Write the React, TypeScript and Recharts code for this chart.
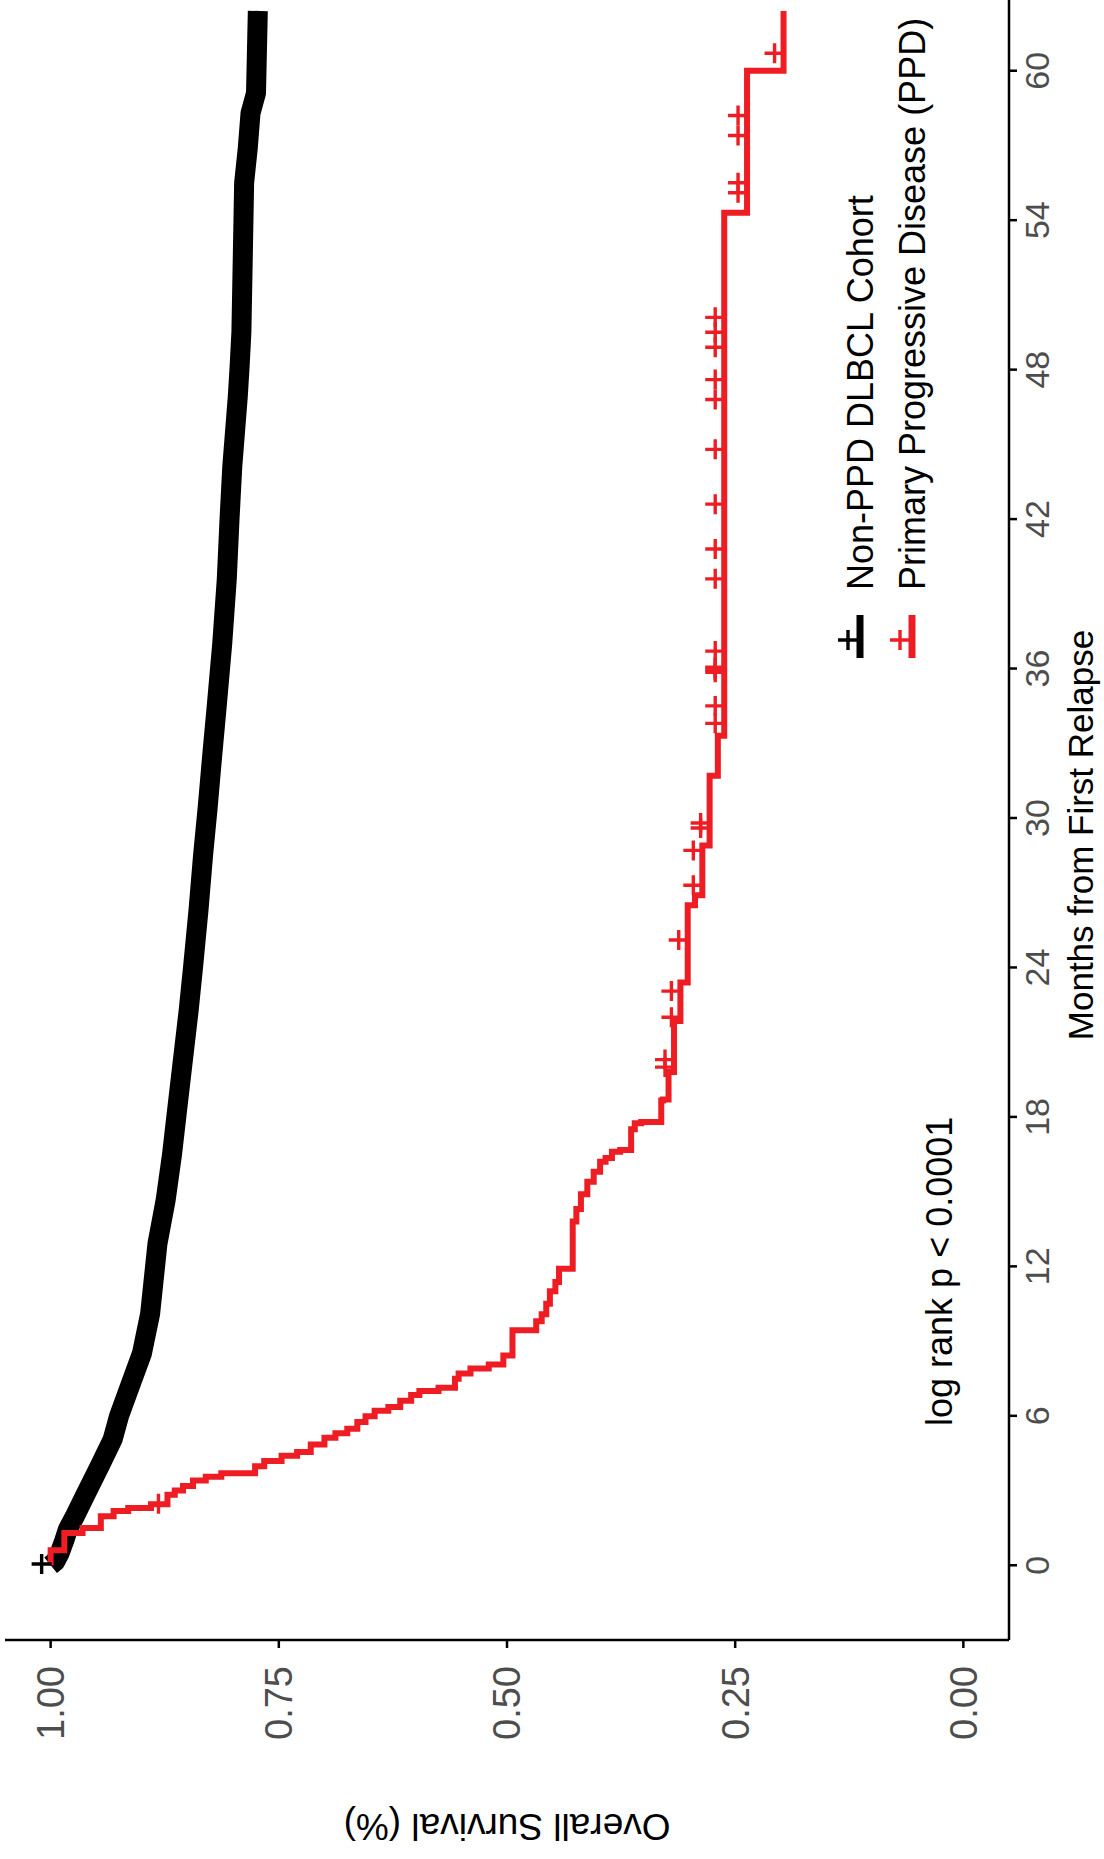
import {
  ComposedChart,
  Line,
  Scatter,
  XAxis,
  YAxis,
  ReferenceDot,
  Legend,
} from "recharts";

const seriesNames = ["Non-PPD DLBCL Cohort", "Primary Progressive Disease (PPD)"];
const seriesColors = ["#000000", "#EE1D23"];

const monthTicks = [0, 6, 12, 18, 24, 30, 36, 42, 48, 54, 60];
const survivalTicks = [0, 0.25, 0.5, 0.75, 1];

// the large cohort is a dense run of tiny steps and censor marks, so it reads as a band
const nonPpdSteps: [number, number][] = [
  [0, 1.0], [0.15, 0.995], [0.5, 0.99], [1.0, 0.985], [1.45, 0.981],
  [2.0, 0.973], [2.9, 0.961], [4.0, 0.946], [5.06, 0.932], [6.0, 0.925],
  [7.2, 0.913], [8.5, 0.9], [10.1, 0.891], [11.5, 0.887], [12.9, 0.883],
  [14.66, 0.874], [16.5, 0.867], [18.1, 0.862], [20.0, 0.856], [22.2, 0.849],
  [24.0, 0.844], [26.3, 0.838], [28.5, 0.833], [30.4, 0.828], [32.5, 0.823],
  [34.5, 0.818], [37.0, 0.812], [39.6, 0.807], [42.0, 0.804], [44.1, 0.801],
  [46.9, 0.795], [48.1, 0.793], [49.5, 0.791], [55.5, 0.788], [56.9, 0.784],
  [58.3, 0.781], [59.1, 0.775], [62.4, 0.773],
];

const ppdSteps: [number, number][] = [
  [0, 1.0], [0.6, 0.985], [1.3, 0.965], [1.5, 0.945], [1.97, 0.931],
  [2.18, 0.915], [2.3, 0.89], [2.45, 0.872], [2.83, 0.864], [3.0, 0.855],
  [3.18, 0.844], [3.4, 0.83], [3.55, 0.813], [3.69, 0.776], [3.98, 0.766],
  [4.19, 0.747], [4.4, 0.73], [4.55, 0.715], [4.85, 0.7], [5.12, 0.688],
  [5.3, 0.675], [5.48, 0.664], [5.75, 0.655], [5.98, 0.645], [6.2, 0.63],
  [6.35, 0.617], [6.6, 0.605], [6.84, 0.596], [7.0, 0.575], [7.13, 0.557],
  [7.49, 0.553], [7.7, 0.54], [7.9, 0.52], [8.06, 0.504], [8.42, 0.494],
  [9.44, 0.468], [9.8, 0.462], [10.08, 0.457], [10.5, 0.453], [11.0, 0.447],
  [11.37, 0.443], [11.9, 0.428], [13.8, 0.424], [14.3, 0.419], [14.9, 0.412],
  [15.4, 0.405], [15.8, 0.398], [16.2, 0.392], [16.35, 0.385], [16.6, 0.376],
  [16.67, 0.364], [17.5, 0.36], [17.75, 0.353], [17.8, 0.331], [18.66, 0.329],
  [18.7, 0.323], [19.8, 0.317], [21.85, 0.31], [23.4, 0.302], [26.5, 0.294],
  [26.9, 0.286], [28.9, 0.278], [31.7, 0.269], [33.3, 0.262], [54.3, 0.237],
  [60.0, 0.197], [62.4, 0.197],
];

const nonPpdCensorMonths = [0.05];
const ppdCensorMonths = [
  2.47, 20.0, 20.3, 22.0, 23.05, 25.1, 27.3, 28.7, 29.6, 29.8, 33.8, 34.5,
  35.85, 35.95, 36.05, 36.7, 39.6, 40.8, 42.6, 44.8, 46.8, 47.6, 48.9, 49.5,
  50.1, 55.1, 55.5, 57.4, 58.2, 60.7,
];

const toRows = (steps: [number, number][]) => steps.map(([t, s]) => ({ t, s }));

// value of the step function at time t
const survivalAt = (steps: [number, number][], t: number) => {
  let s = steps[0][1];
  for (const [ti, si] of steps) if (ti <= t) s = si;
  return s;
};

const censorRows = (steps: [number, number][], months: number[]) =>
  months.map((t) => ({ t, s: survivalAt(steps, t) }));

const CensorMark = (props: any) => {
  const { cx, cy, fill } = props;
  if (cx == null || cy == null) return null;
  const y = cy - 9;
  return (
    <path
      d={`M${cx - 10},${y}H${cx + 10}M${cx},${y - 10}V${y + 10}`}
      stroke={fill}
      strokeWidth={3.4}
      fill="none"
    />
  );
};

const LegendBox = () => (
  <svg width={720} height={130}>
    {seriesNames.map((name, i) => {
      const y = 40 + i * 52;
      return (
        <g key={name}>
          <line x1={11} x2={54} y1={y} y2={y} stroke={seriesColors[i]} strokeWidth={7} />
          <path
            d={`M19,${y - 12}H39M29,${y - 22}V${y - 2}`}
            stroke={seriesColors[i]}
            strokeWidth={3.4}
            fill="none"
          />
          <text x={79} y={y + 13} fontSize={36} fill="#000">
            {name}
          </text>
        </g>
      );
    })}
  </svg>
);

const SurvivalLabel = (props: any) => {
  const vb = props.viewBox || {};
  const x = 33;
  const cy = vb.height ? vb.y + vb.height / 2 : 507;
  return (
    <text
      x={x}
      y={cy}
      transform={`rotate(-90, ${x}, ${cy})`}
      textAnchor="middle"
      dominantBaseline="central"
      fontSize={37}
      fill="#000"
    >
      Overall Survival (%)
    </text>
  );
};

const MonthsLabel = (props: any) => {
  const vb = props.viewBox || {};
  const cx = vb.width ? vb.x + vb.width / 2 - 17 : 1024;
  const y = vb.height ? vb.y + vb.height - 11 : 1093;
  return (
    <text x={cx} y={y} textAnchor="middle" fontSize={35} fill="#000">
      Months from First Relapse
    </text>
  );
};

const App = () => {
  return (
    <div
      style={{
        position: "absolute",
        left: 0,
        top: 0,
        width: 1104,
        height: 1859,
        overflow: "hidden",
        background: "#fff",
        fontFamily: "'Liberation Sans', Arial, sans-serif",
      }}
    >
      {/* chart drawn upright, then turned a quarter turn counter-clockwise */}
      <div
        style={{
          width: 1863,
          height: 1104,
          transformOrigin: "0 0",
          transform: "translate(0px, 1859px) rotate(-90deg)",
        }}
      >
        <ComposedChart
          width={1863}
          height={1104}
          margin={{ top: 5, right: 0, bottom: 0, left: 19 }}
        >
          <XAxis
            type="number"
            dataKey="t"
            domain={[-3, 63]}
            ticks={monthTicks}
            allowDataOverflow
            height={95}
            tickSize={8}
            tickMargin={8}
            axisLine={{ stroke: "#000", strokeWidth: 2.5 }}
            tickLine={{ stroke: "#000", strokeWidth: 2.5 }}
            tick={{ fill: "#4D4D4D", fontSize: 34 }}
            label={MonthsLabel}
          />
          <YAxis
            type="number"
            dataKey="s"
            domain={[-0.05, 1.05]}
            ticks={survivalTicks}
            allowDataOverflow
            width={200}
            tickSize={8}
            tickMargin={18}
            tickFormatter={(v: number) => v.toFixed(2)}
            axisLine={{ stroke: "#000", strokeWidth: 2.5 }}
            tickLine={{ stroke: "#000", strokeWidth: 2.5 }}
            tick={{ fill: "#4D4D4D", fontSize: 38 }}
            label={SurvivalLabel}
          />

          <Line
            data={toRows(nonPpdSteps)}
            dataKey="s"
            name={seriesNames[0]}
            type="linear"
            stroke={seriesColors[0]}
            strokeWidth={20}
            strokeLinejoin="round"
            dot={false}
            activeDot={false}
            isAnimationActive={false}
          />
          <Scatter
            data={censorRows(nonPpdSteps, nonPpdCensorMonths)}
            dataKey="s"
            fill={seriesColors[0]}
            shape={CensorMark}
            legendType="none"
            isAnimationActive={false}
          />
          <Line
            data={toRows(ppdSteps)}
            dataKey="s"
            name={seriesNames[1]}
            type="stepAfter"
            stroke={seriesColors[1]}
            strokeWidth={6}
            dot={false}
            activeDot={false}
            isAnimationActive={false}
          />
          <Scatter
            data={censorRows(ppdSteps, ppdCensorMonths)}
            dataKey="s"
            fill={seriesColors[1]}
            shape={CensorMark}
            legendType="none"
            isAnimationActive={false}
          />

          <ReferenceDot
            x={11.8}
            y={0.027}
            r={0}
            fill="none"
            stroke="none"
            label={{
              value: "log rank p < 0.0001",
              position: "center",
              fontSize: 36,
              fill: "#000",
            }}
          />

          <Legend
            layout="vertical"
            align="center"
            verticalAlign="middle"
            content={LegendBox}
            wrapperStyle={{ position: "absolute", left: 1190, top: 820, width: 720, height: 130 }}
          />
        </ComposedChart>
      </div>
    </div>
  );
};

export default App;
